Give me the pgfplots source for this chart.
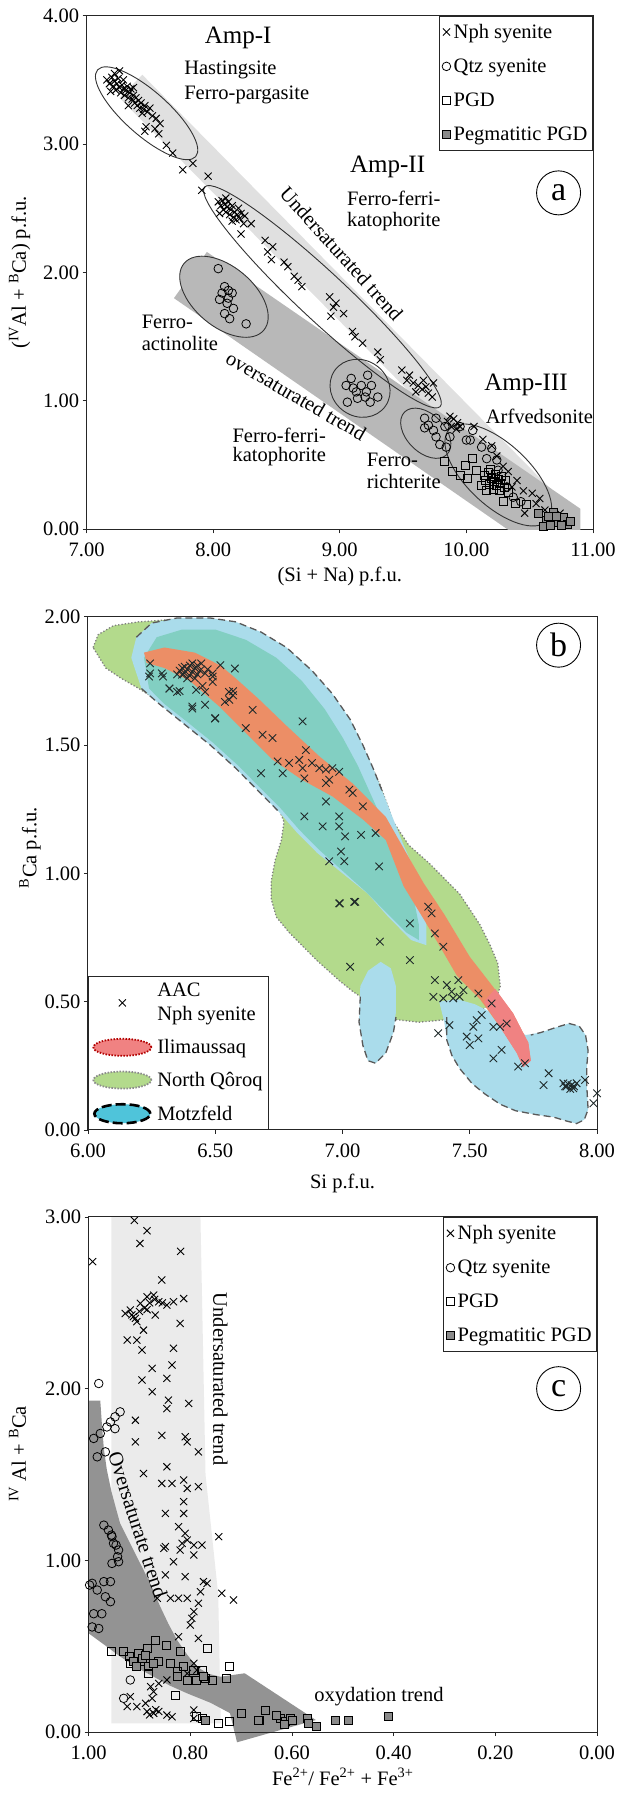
\documentclass[border=0pt]{standalone}
\usepackage{pgfplots}
\pgfplotsset{compat=1.18}
\usepackage{fontspec}
\setmainfont{Liberation Serif}

\definecolor{lband}{HTML}{E0E0E0}
\definecolor{dband}{HTML}{B8B8B8}
\definecolor{pegfill}{HTML}{8A8A8A}
\definecolor{nqgreen}{HTML}{B3DA8C}
\definecolor{mzblue}{HTML}{AADCEB}
\definecolor{mzteal}{HTML}{82CFC2}
\definecolor{iliorange}{HTML}{EC8E66}
\definecolor{ilipink}{HTML}{F08282}
\definecolor{legcyan}{HTML}{4FC4DA}
\definecolor{cband}{HTML}{EBEBEB}
\definecolor{carrow}{HTML}{939393}
\definecolor{xmk}{HTML}{1F2A2A}

\newcommand\fs{\fontsize{20.5}{24}\selectfont}
\newcommand\fb{\fontsize{25}{30}\selectfont}

\tikzset{
  nph/.style={only marks, mark=x, mark size=5pt, black, line width=0.9pt},
  qtz/.style={only marks, mark=o, mark size=4.3pt, black, line width=0.8pt},
  pgd/.style={only marks, mark=square, mark size=4pt, black, line width=0.8pt},
  peg/.style={only marks, mark=square*, mark size=4pt, draw=black, fill=pegfill, line width=0.8pt},
}

\pgfplotsset{
  panel/.style={
    scale only axis,
    axis line style={line width=1pt, black!85},
    tick style={line width=0.8pt, black!85},
    tick align=outside,
    major tick length=4pt,
    xtick pos=bottom, ytick pos=left,
    tick label style={font=\fs, /pgf/number format/fixed, /pgf/number format/fixed zerofill, /pgf/number format/precision=2, /pgf/number format/assume math mode=true},
    xticklabel style={yshift=-6pt},
    every axis x label/.style={at={(axis description cs:0.5,0)}, anchor=center, yshift=-47pt, font=\fs},
    legend cell align=left,
  },
}

\begin{document}
\begin{tikzpicture}[x=1pt,y=1pt]
\useasboundingbox (0,0) rectangle (619,1796);

%================ PANEL A =================
\begin{axis}[panel, at={(86.6pt,1266.7pt)}, anchor=south west,
  width=506.4pt, height=513.6pt,
  xmin=7, xmax=11, ymin=0, ymax=4,
  xtick={7,8,9,10,11}, ytick={0,1,2,3,4},
  xlabel={(Si + Na) p.f.u.},
  ylabel={(\textsuperscript{IV}Al + \textsuperscript{B}Ca) p.f.u.},
  every axis y label/.style={at={(axis description cs:-0.1323,0.5)}, anchor=center, rotate=90, font=\fs},
  legend style={at={(1,1)}, anchor=north east, draw=black!85, line width=0.9pt, font=\fs,
    inner xsep=3pt, inner ysep=6pt, row sep=15pt, column sep=1pt, nodes={inner sep=2pt}, cells={anchor=west}},
  legend image code/.code={\draw[#1] plot coordinates {(0pt,0pt)};},
]
\addplot[fill=lband, draw=none, forget plot] coordinates {(7.26,3.36)(7.44,3.54)(10.89,0.09)(10.71,-0.09)} --cycle;
\addplot[fill=dband, draw=none, forget plot] coordinates {(7.69,1.80)(7.95,2.16)(10.9,0.16)(10.9,-0.1)(10.47,-0.1)} --cycle;

\draw[fill=dband, draw=black!80, line width=0.9pt, rotate around={-40:(axis cs:8.085,1.811)}] (axis cs:8.085,1.811) ellipse [x radius=52pt, y radius=30pt];
\draw[black!80, line width=0.9pt, rotate around={-41.5:(axis cs:7.474,3.24)}] (axis cs:7.474,3.24) ellipse [x radius=65.5pt, y radius=22pt];
\draw[black!80, line width=0.9pt, rotate around={-43:(axis cs:8.863,1.811)}] (axis cs:8.863,1.811) ellipse [x radius=161pt, y radius=24pt];
\draw[black!80, line width=0.9pt, rotate around={-35:(axis cs:9.16,1.098)}] (axis cs:9.16,1.098) ellipse [x radius=31pt, y radius=28pt];
\draw[black!80, line width=0.9pt, rotate around={-45:(axis cs:9.679,0.748)}] (axis cs:9.679,0.748) ellipse [x radius=30pt, y radius=19pt];
\draw[black!80, line width=0.9pt, rotate around={-43:(axis cs:10.252,0.423)}] (axis cs:10.252,0.423) ellipse [x radius=67pt, y radius=31pt];

\node[anchor=west, font=\fb] at (axis cs:7.906,3.824) {Amp-I};
\node[anchor=west, font=\fs] at (axis cs:7.744,3.577) {Hastingsite};
\node[anchor=west, font=\fs] at (axis cs:7.744,3.382) {Ferro-pargasite};
\node[anchor=west, font=\fb] at (axis cs:9.054,2.824) {Amp-II};
\node[anchor=west, font=\fs] at (axis cs:9.029,2.578) {Ferro-ferri-};
\node[anchor=west, font=\fs] at (axis cs:9.029,2.396) {katophorite};
\node[font=\fs, rotate=-48] at (axis cs:9.013,2.148) {Undersaturated trend};
\node[anchor=west, font=\fs] at (axis cs:7.408,1.617) {Ferro-};
\node[anchor=west, font=\fs] at (axis cs:7.408,1.449) {actinolite};
\node[font=\fs, rotate=-30] at (axis cs:8.655,1.04) {oversaturated trend};
\node[anchor=west, font=\fs] at (axis cs:8.125,0.734) {Ferro-ferri-};
\node[anchor=west, font=\fs] at (axis cs:8.125,0.565) {katophorite};
\node[anchor=west, font=\fs] at (axis cs:9.185,0.54) {Ferro-};
\node[anchor=west, font=\fs] at (axis cs:9.185,0.371) {richterite};
\node[anchor=west, font=\fb] at (axis cs:10.114,1.124) {Amp-III};
\node[anchor=west, font=\fs] at (axis cs:10.126,0.877) {Arfvedsonite};
\node[circle, draw=black, line width=0.9pt, minimum size=44pt, inner sep=0pt, font=\fontsize{34}{34}\selectfont] at (axis cs:10.728,2.62) {a};

\addplot[nph] coordinates {
(7.16,3.50)(7.18,3.47)(7.20,3.52)(7.21,3.45)(7.22,3.49)(7.23,3.42)(7.24,3.47)(7.25,3.51)(7.26,3.44)(7.27,3.40)
(7.28,3.46)(7.29,3.43)(7.30,3.38)(7.31,3.42)(7.32,3.45)(7.33,3.36)(7.34,3.40)(7.35,3.43)(7.36,3.35)(7.37,3.38)
(7.38,3.32)(7.39,3.36)(7.40,3.30)(7.41,3.34)(7.42,3.28)(7.43,3.32)(7.45,3.27)(7.46,3.30)(7.48,3.25)(7.50,3.28)
(7.52,3.22)(7.22,3.55)(7.26,3.57)(7.19,3.41)(7.29,3.50)(7.33,3.30)(7.37,3.44)(7.44,3.24)(7.55,3.20)(7.58,3.16)
(7.57,3.08)(7.47,3.135)(7.54,3.12)(7.46,3.10)(7.63,2.99)(7.68,2.93)(7.76,2.80)(7.84,2.85)(7.96,2.75)(7.91,2.64)
(8.04,2.55)(8.06,2.52)(8.07,2.56)(8.08,2.49)(8.09,2.53)(8.10,2.47)(8.11,2.51)(8.12,2.55)(8.13,2.45)(8.14,2.49)
(8.15,2.52)(8.16,2.43)(8.17,2.47)(8.18,2.41)(8.19,2.45)(8.20,2.50)(8.21,2.42)(8.22,2.46)(8.05,2.46)(8.10,2.58)
(8.15,2.40)(8.25,2.44)(8.24,2.38)(8.30,2.38)(8.22,2.30)(8.41,2.25)(8.47,2.20)(8.46,2.10)(8.43,2.16)(8.59,2.045)
(8.56,2.08)(8.67,1.94)(8.70,1.89)(8.64,1.97)(8.92,1.81)(8.95,1.73)(8.93,1.66)(8.97,1.76)(9.03,1.68)(9.10,1.54)
(9.12,1.50)(9.18,1.45)(9.32,1.32)(9.30,1.38)(9.49,1.24)(9.53,1.16)(9.55,1.20)(9.58,1.14)(9.62,1.12)(9.65,1.09)
(9.68,1.11)(9.70,1.06)(9.74,1.14)(9.73,1.03)(9.60,1.07)(9.66,1.16)(9.87,0.88)(9.93,0.83)(9.90,0.86)(9.95,0.80)
(9.88,0.80)(9.92,0.78)(9.85,0.84)(10.06,0.80)(10.13,0.70)(10.20,0.65)(10.24,0.57)(10.29,0.49)(10.33,0.45)(10.40,0.38)
(10.36,0.33)(10.45,0.30)(10.52,0.28)(10.46,0.125)(10.62,0.15)(10.74,0.125)(10.55,0.20)(10.58,0.24)
};
\addlegendentry{Nph syenite}
\addplot[qtz] coordinates {
(8.04,2.03)(8.09,1.89)(8.12,1.86)(8.07,1.84)(8.15,1.84)(8.05,1.79)(8.11,1.76)(8.16,1.72)(8.09,1.68)(8.13,1.64)
(8.26,1.60)(8.12,1.80)
(9.05,1.12)(9.09,1.175)(9.13,1.07)(9.17,1.12)(9.21,1.07)(9.25,1.12)(9.22,1.20)(9.06,0.99)(9.14,1.02)(9.24,0.99)
(9.30,1.03)(9.20,1.03)(9.105,1.10)
(9.67,0.865)(9.70,0.81)(9.67,0.79)(9.74,0.77)(9.76,0.72)(9.79,0.66)(9.84,0.64)(9.76,0.865)(9.83,0.80)(10.0,0.695)
(10.05,0.77)(10.12,0.64)(10.20,0.63)(10.16,0.55)(10.24,0.54)(10.25,0.46)(10.32,0.33)(10.37,0.25)(10.43,0.215)(9.87,0.72)
(9.95,0.80)(10.03,0.695)
};
\addlegendentry{Qtz syenite}
\addplot[pgd] coordinates {
(9.83,0.53)(9.89,0.45)(9.99,0.50)(10.01,0.40)(10.08,0.46)(10.145,0.42)(10.12,0.345)(10.15,0.38)(10.17,0.44)(10.18,0.35)
(10.20,0.40)(10.21,0.31)(10.22,0.37)(10.23,0.43)(10.24,0.34)(10.25,0.39)(10.26,0.30)(10.27,0.36)(10.28,0.41)(10.30,0.33)
(10.31,0.38)(10.33,0.29)(10.16,0.30)(10.19,0.47)(10.29,0.215)(10.39,0.20)(10.47,0.19)(10.05,0.55)(9.95,0.42)
};
\addlegendentry{PGD}
\addplot[peg] coordinates {
(10.57,0.12)(10.63,0.07)(10.69,0.13)(10.73,0.05)(10.77,0.09)(10.80,0.04)(10.61,0.025)(10.66,0.03)(10.75,0.03)(10.82,0.06)
(10.65,0.10)(10.71,0.10)
};
\addlegendentry{Pegmatitic PGD}
\end{axis}

%================ PANEL B =================
\begin{axis}[panel, at={(88pt,666pt)}, anchor=south west,
  width=509pt, height=513.3pt,
  xmin=6, xmax=8, ymin=0, ymax=2,
  xtick={6,6.5,7,7.5,8}, ytick={0,0.5,1,1.5,2},
  xlabel={Si p.f.u.},
  ylabel={\textsuperscript{B}Ca p.f.u.},
  every axis x label/.append style={yshift=-6pt},
  every axis y label/.style={at={(axis description cs:-0.114,0.55)}, anchor=center, rotate=90, font=\fs},
  legend style={at={(0,0)}, anchor=south west, draw=black!85, line width=0.9pt, font=\fs,
    inner xsep=4pt, inner ysep=5pt, row sep=13pt, column sep=3pt, nodes={inner sep=2pt}, cells={anchor=west, align=left}},
]
% North Qoroq
\addplot[fill=nqgreen, draw=black!50, line width=1.3pt, dash pattern=on 1.3pt off 2pt, forget plot] coordinates {
(6.02,1.88)(6.04,1.93)(6.10,1.965)(6.2,1.98)(6.35,1.99)(6.55,1.97)(6.70,1.92)(6.82,1.84)(6.93,1.73)(7.02,1.60)
(7.09,1.47)(7.15,1.34)(7.20,1.20)(7.26,1.11)(7.34,1.04)(7.41,0.97)(7.46,0.92)(7.50,0.86)(7.54,0.80)(7.58,0.72)
(7.61,0.65)(7.62,0.56)(7.60,0.50)(7.55,0.47)(7.48,0.44)(7.41,0.43)(7.30,0.42)(7.21,0.43)(7.15,0.47)(7.10,0.50)
(7.04,0.54)(6.99,0.58)(6.90,0.66)(6.84,0.72)(6.79,0.77)(6.74,0.83)(6.72,0.90)(6.72,0.97)(6.735,1.05)(6.76,1.13)
(6.77,1.20)(6.74,1.28)(6.67,1.34)(6.58,1.43)(6.48,1.52)(6.38,1.60)(6.28,1.67)(6.20,1.72)(6.13,1.76)(6.07,1.80)
} --cycle;
% Motzfeld main
\addplot[fill=mzblue, draw=none, forget plot] coordinates {
(6.17,1.84)(6.19,1.92)(6.25,1.975)(6.35,1.995)(6.48,1.995)(6.58,1.98)(6.68,1.94)(6.78,1.88)(6.88,1.79)(6.96,1.70)
(7.03,1.60)(7.08,1.50)(7.12,1.41)(7.16,1.31)(7.20,1.21)(7.24,1.11)(7.28,1.02)(7.31,0.93)(7.33,0.82)(7.33,0.72)
(7.27,0.74)(7.18,0.83)(7.10,0.92)(7.00,1.00)(6.90,1.08)(6.82,1.16)(6.75,1.24)(6.67,1.32)(6.58,1.41)(6.48,1.50)
(6.38,1.58)(6.28,1.66)(6.21,1.72)
} --cycle;
\addplot[fill=mzblue, draw=none, forget plot] coordinates {
(7.38,0.50)(7.40,0.42)(7.41,0.35)(7.43,0.29)(7.46,0.24)(7.51,0.18)(7.56,0.14)(7.62,0.10)(7.68,0.075)(7.76,0.06)
(7.83,0.05)(7.88,0.035)(7.92,0.025)(7.95,0.04)(7.965,0.08)(7.96,0.17)(7.96,0.25)(7.965,0.31)(7.955,0.37)(7.93,0.405)
(7.89,0.415)(7.84,0.40)(7.78,0.38)(7.72,0.37)(7.66,0.40)(7.60,0.45)(7.52,0.49)(7.45,0.51)
} --cycle;
\addplot[fill=mzblue, draw=none, forget plot] coordinates {
(7.07,0.56)(7.10,0.62)(7.15,0.655)(7.19,0.63)(7.21,0.56)(7.21,0.46)(7.20,0.38)(7.17,0.30)(7.13,0.26)(7.10,0.27)
(7.08,0.33)(7.065,0.42)
} --cycle;
\addplot[fill=mzteal, draw=none, forget plot] coordinates {
(6.22,1.84)(6.27,1.92)(6.37,1.95)(6.5,1.95)(6.62,1.91)(6.74,1.84)(6.84,1.75)(6.93,1.64)(7.00,1.53)(7.06,1.42)
(7.11,1.31)(7.16,1.20)(7.21,1.09)(7.25,0.99)(7.28,0.90)(7.30,0.80)(7.30,0.74)(7.25,0.77)(7.17,0.85)(7.09,0.93)
(7.00,1.01)(6.91,1.09)(6.83,1.17)(6.76,1.25)(6.68,1.33)(6.59,1.42)(6.49,1.51)(6.39,1.59)(6.30,1.66)(6.24,1.72)
} --cycle;
% Ilimaussaq
\addplot[fill=iliorange, draw=none, forget plot] coordinates {
(6.22,1.86)(6.3,1.88)(6.42,1.86)(6.52,1.81)(6.58,1.76)(6.67,1.68)(6.78,1.575)(6.91,1.455)(7.04,1.35)(7.17,1.22)
(7.25,1.08)(7.32,0.96)(7.40,0.84)(7.50,0.675)(7.59,0.56)(7.67,0.455)(7.73,0.34)(7.74,0.27)(7.71,0.245)(7.685,0.30)
(7.62,0.40)(7.54,0.51)(7.45,0.60)(7.38,0.72)(7.32,0.82)(7.24,0.95)(7.17,1.13)(7.08,1.21)(6.96,1.30)(6.84,1.365)
(6.725,1.443)(6.62,1.547)(6.516,1.65)(6.40,1.75)(6.3,1.80)(6.23,1.82)
} --cycle;
\addplot[fill=ilipink, draw=none, forget plot] coordinates {
(7.60,0.55)(7.67,0.455)(7.73,0.34)(7.74,0.27)(7.71,0.245)(7.685,0.30)(7.62,0.40)(7.555,0.50)
} --cycle;
% dashed Motzfeld outlines
\addplot[black!65, line width=1.3pt, dash pattern=on 7pt off 4pt, forget plot] coordinates {
(6.19,1.92)(6.25,1.975)(6.35,1.995)(6.48,1.995)(6.58,1.98)(6.68,1.94)(6.78,1.88)(6.88,1.79)(6.96,1.70)(7.03,1.60)
(7.08,1.50)(7.12,1.41)(7.16,1.31)};
\addplot[black!65, line width=1.3pt, dash pattern=on 7pt off 4pt, forget plot] coordinates {
(6.21,1.72)(6.28,1.66)(6.38,1.58)(6.48,1.50)(6.58,1.41)(6.67,1.32)(6.75,1.24)};
\addplot[black!65, line width=1.3pt, dash pattern=on 7pt off 4pt, forget plot] coordinates {
(7.41,0.44)(7.41,0.35)(7.43,0.29)(7.46,0.24)(7.51,0.18)(7.56,0.14)(7.62,0.10)(7.68,0.075)(7.76,0.06)(7.83,0.05)
(7.88,0.035)(7.92,0.025)(7.95,0.04)(7.965,0.08)(7.96,0.17)(7.96,0.25)(7.965,0.31)(7.955,0.37)(7.93,0.405)(7.89,0.415)
(7.84,0.40)(7.78,0.38)(7.74,0.37)};
\addplot[black!65, line width=1.3pt, dash pattern=on 7pt off 4pt, forget plot] coordinates {
(7.07,0.52)(7.065,0.42)(7.08,0.33)(7.10,0.27)(7.13,0.26)(7.17,0.30)(7.20,0.38)(7.21,0.44)};

\node[circle, draw=black, line width=0.9pt, minimum size=44pt, inner sep=0pt, font=\fontsize{34}{34}\selectfont] at (axis cs:7.849,1.889) {b};

\addplot[nph, xmk, mark size=5.3pt, forget plot] coordinates {
(6.24,1.767)(6.295,1.767)(6.37,1.774)(6.49,1.767)(6.32,1.72)(6.36,1.71)(6.425,1.715)(6.45,1.73)(6.57,1.71)(6.555,1.676)
(6.41,1.65)(6.46,1.657)(6.50,1.605)(6.647,1.637)(6.62,1.566)(6.686,1.54)(6.725,1.527)(6.843,1.592)(6.856,1.48)(6.745,1.436)
(6.79,1.43)(6.83,1.442)(6.843,1.41)(6.88,1.43)(6.909,1.41)(6.935,1.404)(6.96,1.41)(6.987,1.396)(6.935,1.352)(6.948,1.365)
(6.68,1.39)(6.765,1.39)(6.85,1.37)(7.027,1.326)(7.04,1.313)(7.08,1.261)(6.935,1.28)(6.85,1.222)(6.922,1.183)(6.987,1.222)
(6.987,1.183)(7.01,1.144)(7.073,1.15)(7.13,1.157)(6.994,1.085)(6.948,1.047)(7.007,1.047)(7.144,1.027)(6.987,0.883)(7.046,0.889)
(6.244,1.818)(6.244,1.779)(6.29,1.779)(6.32,1.72)(6.35,1.707)(6.38,1.805)(6.41,1.818)(6.445,1.818)(6.46,1.779)(6.49,1.779)
(6.52,1.811)(6.577,1.798)(6.49,1.746)(6.46,1.707)(6.41,1.642)(6.499,1.603)(6.554,1.707)(6.538,1.668)(6.57,1.694)
(6.36,1.79)(6.37,1.80)(6.38,1.78)(6.39,1.795)(6.40,1.77)(6.40,1.81)(6.41,1.785)(6.42,1.80)(6.43,1.775)(6.43,1.81)
(6.44,1.79)(6.39,1.76)(6.42,1.76)(6.35,1.775)(6.47,1.795)
(6.99,0.883)(7.05,0.889)(7.265,0.805)(7.147,0.734)(7.03,0.636)(7.265,0.662)(7.337,0.87)(7.35,0.844)(7.363,0.766)(7.396,0.714)
(7.363,0.584)(7.41,0.565)(7.455,0.584)(7.357,0.519)(7.396,0.513)(7.435,0.513)(7.46,0.519)(7.475,0.545)(7.429,0.539)(7.534,0.532)
(7.586,0.493)(7.376,0.377)(7.42,0.409)(7.488,0.364)(7.514,0.402)(7.527,0.428)(7.547,0.448)(7.5,0.331)(7.534,0.357)(7.593,0.402)
(7.619,0.402)(7.645,0.415)(7.593,0.279)(7.625,0.312)(7.69,0.247)(7.717,0.26)(7.81,0.221)(7.79,0.175)(7.868,0.182)(7.88,0.169)
(7.9,0.175)(7.907,0.162)(7.92,0.182)(7.953,0.195)(7.986,0.104)(8.0,0.143)(7.885,0.18)(7.895,0.16)(7.875,0.17)(7.91,0.17)
};
\addlegendimage{legend image code/.code={\draw[black, line width=0.9pt] plot[only marks, mark=x, mark size=5pt] coordinates {(31pt,0pt)};}}
\addlegendentry{AAC\\Nph syenite}
\addlegendimage{legend image code/.code={\draw[fill=ilipink, draw=red!70!black, dash pattern=on 1.5pt off 1.5pt, line width=1.8pt] (31pt,0pt) ellipse [x radius=29pt, y radius=8.5pt];}}
\addlegendentry{Ilimaussaq}
\addlegendimage{legend image code/.code={\draw[fill=nqgreen, draw=black!45, dash pattern=on 1.5pt off 1.5pt, line width=1.8pt] (31pt,0pt) ellipse [x radius=29pt, y radius=8.5pt];}}
\addlegendentry{North Qôroq}
\addlegendimage{legend image code/.code={\draw[fill=legcyan, draw=black, dash pattern=on 10pt off 4pt, line width=2.6pt] (31pt,0pt) ellipse [x radius=28pt, y radius=9.5pt];}}
\addlegendentry{Motzfeld}
\end{axis}

%================ PANEL C =================
\begin{axis}[panel, at={(88.6pt,64pt)}, anchor=south west,
  width=508.4pt, height=515pt,
  x dir=reverse,
  xmin=0, xmax=1, ymin=0, ymax=3,
  xtick={0,0.2,0.4,0.6,0.8,1}, ytick={0,1,2,3},
  clip=false, axis on top,
  xlabel={Fe\textsuperscript{2+}/ Fe\textsuperscript{2+} + Fe\textsuperscript{3+}},
  ylabel={\textsuperscript{IV} Al + \textsuperscript{B}Ca},
  every axis x label/.append style={yshift=2pt},
  every axis y label/.style={at={(axis description cs:-0.1397,0.54)}, anchor=center, rotate=90, font=\fs},
  legend style={at={(1,1)}, anchor=north east, draw=black!85, line width=0.9pt, font=\fs,
    inner xsep=3pt, inner ysep=6pt, row sep=15pt, column sep=1pt, nodes={inner sep=2pt}, cells={anchor=west}},
  legend image code/.code={\draw[#1] plot coordinates {(0pt,0pt)};},
]
\addplot[fill=cband, draw=none, forget plot] coordinates {(0.955,3.0)(0.78,3.0)(0.77,1.5)(0.745,0.8)(0.74,0.05)(0.955,0.05)} --cycle;
\addplot[fill=carrow, draw=none, forget plot] coordinates {
(1.0,1.93)(0.977,1.93)(0.974,1.80)(0.970,1.65)(0.964,1.526)(0.955,1.40)(0.945,1.29)(0.938,1.215)(0.922,1.12)(0.905,1.02)
(0.892,0.944)(0.875,0.84)(0.859,0.73)(0.843,0.63)(0.826,0.536)(0.806,0.45)(0.787,0.38)(0.765,0.34)(0.741,0.322)(0.693,0.342)
(0.553,0.07)(0.708,-0.06)(0.722,0.11)(0.76,0.17)(0.806,0.225)(0.84,0.27)(0.872,0.322)(0.905,0.375)(0.938,0.44)(0.97,0.51)
(1.0,0.575)
} --cycle;
\node[font=\fs, rotate=-90] at (axis cs:0.741,2.056) {Undersaturated trend};
\node[font=\fs, rotate=-72] at (axis cs:0.903,1.206) {Oversaturate trend};
\node[font=\fs] at (axis cs:0.429,0.206) {oxydation trend};
\node[circle, draw=black, line width=0.9pt, minimum size=44pt, inner sep=0pt, font=\fontsize{34}{34}\selectfont] at (axis cs:0.0755,2.0) {c};

\addplot[nph] coordinates {
(0.910,2.98)(0.885,2.92)(0.899,2.846)(0.819,2.80)(0.992,2.74)
(0.856,2.633)(0.885,2.535)(0.872,2.545)(0.862,2.506)(0.846,2.487)(0.833,2.506)(0.813,2.525)(0.898,2.497)(0.918,2.458)(0.928,2.438)
(0.912,2.419)(0.905,2.39)(0.869,2.429)(0.892,2.341)(0.924,2.283)(0.905,2.283)(0.82,2.38)(0.833,2.235)(0.895,2.225)(0.875,2.118)
(0.836,2.138)(0.846,2.06)(0.895,2.05)(0.875,1.982)(0.843,1.933)(0.846,1.884)(0.803,1.914)(0.908,1.816)(0.856,1.728)(0.908,1.69)
(0.806,1.69)(0.784,1.632)(0.81,1.72)(0.846,1.545)(0.892,1.506)(0.856,1.448)(0.836,1.448)(0.813,1.468)(0.806,1.419)(0.784,1.429)
(0.813,1.342)(0.849,1.273)(0.813,1.273)(0.823,1.196)(0.81,1.157)(0.806,1.118)(0.816,1.099)(0.849,1.08)(0.793,1.089)(0.744,1.138)
(0.880,2.50)(0.890,2.47)(0.900,2.45)(0.915,2.43)(0.908,2.41)(0.885,2.46)(0.870,2.52)(0.855,2.50)
(0.852,1.07)(0.82,1.06)(0.793,1.031)(0.777,1.089)(0.833,0.992)(0.849,0.915)(0.81,0.905)(0.774,0.876)(0.767,0.866)(0.78,0.817)
(0.738,0.808)(0.715,0.769)(0.865,0.779)(0.839,0.779)(0.823,0.779)(0.806,0.779)(0.784,0.75)(0.793,0.701)(0.797,0.662)(0.8,0.623)
(0.823,0.555)(0.784,0.545)(0.793,0.4)(0.787,0.361)(0.806,0.341)(0.826,0.322)(0.846,0.303)(0.862,0.283)(0.872,0.235)(0.878,0.264)
(0.918,0.206)(0.924,0.148)(0.905,0.148)(0.885,0.119)(0.872,0.109)(0.862,0.119)(0.846,0.099)(0.836,0.089)(0.793,0.128)(0.793,0.079)
(0.875,0.196)(0.888,0.167)(0.880,0.10)(0.868,0.13)
};
\addlegendentry{Nph syenite}
\addplot[qtz] coordinates {
(0.98,2.03)(0.938,1.865)(0.948,1.836)(0.957,1.806)(0.948,1.767)(0.964,1.777)(0.977,1.739)(0.99,1.71)(0.967,1.632)(0.983,1.603)
(0.97,1.205)(0.961,1.176)(0.954,1.138)(0.951,1.099)(0.941,1.06)(0.955,1.147)(0.946,1.089)(0.943,1.021)(0.954,0.982)(0.941,0.992)
(0.993,0.866)(0.983,0.827)(0.97,0.876)(0.957,0.876)(0.967,0.788)(0.957,0.759)(0.99,0.689)(0.974,0.689)(0.993,0.612)(0.98,0.603)
(0.918,0.303)(0.931,0.196)(0.998,0.856)
};
\addlegendentry{Qtz syenite}
\addplot[pgd] coordinates {
(0.955,0.468)(0.932,0.468)(0.919,0.439)(0.902,0.458)(0.885,0.487)(0.869,0.536)(0.846,0.507)(0.82,0.468)(0.767,0.487)(0.918,0.4)
(0.898,0.409)(0.882,0.381)(0.862,0.409)(0.839,0.4)(0.813,0.381)(0.793,0.361)(0.777,0.361)(0.724,0.381)(0.882,0.341)(0.826,0.351)
(0.806,0.303)(0.787,0.303)(0.771,0.312)(0.757,0.303)(0.728,0.312)(0.829,0.215)(0.787,0.089)(0.777,0.079)(0.744,0.05)(0.724,0.06)
};
\addlegendentry{PGD}
\addplot[peg] coordinates {
(0.7,0.109)(0.665,0.07)(0.652,0.128)(0.623,0.079)(0.613,0.06)(0.603,0.079)(0.57,0.079)(0.567,0.05)(0.551,0.031)(0.515,0.07)
(0.489,0.066)(0.41,0.089)(0.77,0.07)(0.911,0.409)(0.895,0.429)(0.905,0.381)(0.872,0.4)(0.888,0.448)(0.826,0.322)(0.774,0.322)
(0.666,0.07)(0.63,0.099)(0.615,0.047)(0.6,0.07)
};
\addlegendentry{Pegmatitic PGD}
\end{axis}
\end{tikzpicture}
\end{document}
